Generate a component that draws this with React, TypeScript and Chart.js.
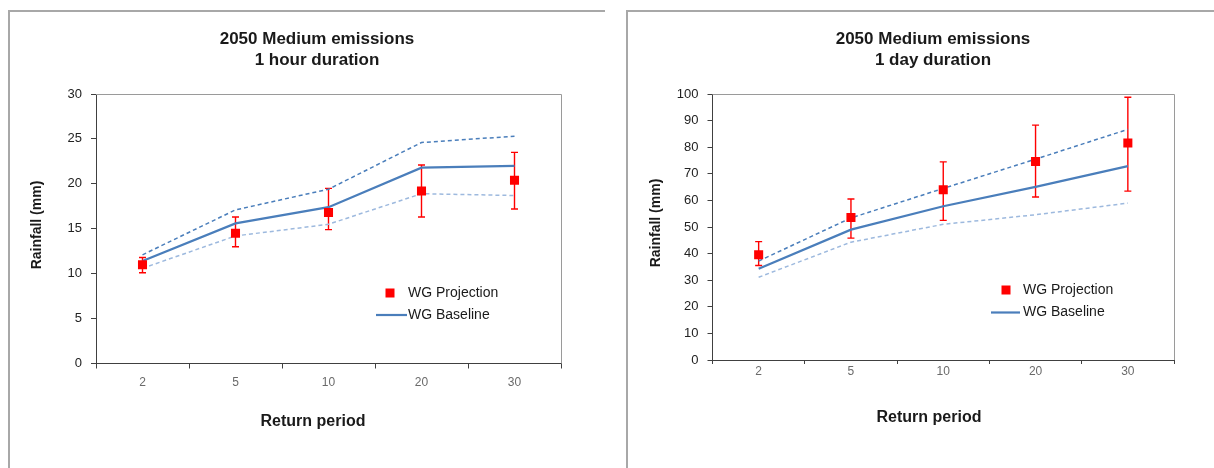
import React, { useEffect, useRef } from "react";
import { Chart, registerables } from "chart.js";

Chart.register(...registerables);

// ---------- data ----------
const returnPeriods = ["2", "5", "10", "20", "30"];

// 1 hour duration
const hourProjection = [11.0, 14.5, 16.8, 19.2, 20.4];
const hourProjectionHigh = [11.8, 16.3, 19.5, 22.1, 23.5];
const hourProjectionLow = [10.1, 13.0, 14.9, 16.3, 17.2];
const hourBaseline = [11.4, 15.6, 17.4, 21.8, 22.0];
const hourBaselineUpper = [12.1, 17.1, 19.4, 24.6, 25.3];
const hourBaselineLower = [10.6, 14.2, 15.5, 18.9, 18.7];

// 1 day duration
const dayProjection = [39.6, 53.6, 64.0, 74.6, 81.6];
const dayProjectionHigh = [44.5, 60.5, 74.5, 88.3, 98.8];
const dayProjectionLow = [35.5, 45.8, 52.5, 61.3, 63.5];
const dayBaseline = [34.3, 49.0, 57.8, 65.1, 72.9];
const dayBaselineUpper = [37.2, 53.4, 64.5, 75.5, 86.7];
const dayBaselineLower = [31.1, 44.3, 51.0, 54.6, 59.0];

const titleLine1 = "2050 Medium emissions";
const hourTitle2 = "1 hour duration";
const dayTitle2 = "1 day duration";
const xTitle = "Return period";
const yTitle = "Rainfall (mm)";
const projLabel = "WG Projection";
const baseLabel = "WG Baseline";

const FONT = "'Liberation Sans', Arial, Helvetica, sans-serif";

type PanelCfg = {
  width: number;
  height: number;
  yMax: number;
  yStep: number;
  proj: number[];
  high: number[];
  low: number[];
  base: number[];
  upper: number[];
  lower: number[];
  title2: string;
  pad: { top: number; right: number };
  yAxisWidth: number;
  xAxisHeight: number;
  xTickPadding: number;
  xTickLen: number;
  titleX: number;
  titleY1: number;
  titleY2: number;
  xTitlePos: [number, number];
  yTitlePos: [number, number];
  legendMarker: [number, number];
  legendLine: [number, number, number];
  legendTextX: number;
};

function makeOverlay(cfg: PanelCfg) {
  return {
    id: "overlay",
    beforeDatasetsDraw(chart: any) {
      const ctx = chart.ctx;
      const xs = chart.scales.x;
      const ys = chart.scales.y;
      ctx.save();
      ctx.strokeStyle = "#FF0000";
      ctx.lineWidth = 1.4;
      cfg.low.forEach((lo, i) => {
        const px = xs.getPixelForValue(i);
        const yl = ys.getPixelForValue(lo);
        const yh = ys.getPixelForValue(cfg.high[i]);
        ctx.beginPath();
        ctx.moveTo(px, yl);
        ctx.lineTo(px, yh);
        ctx.moveTo(px - 3.5, yl);
        ctx.lineTo(px + 3.5, yl);
        ctx.moveTo(px - 3.5, yh);
        ctx.lineTo(px + 3.5, yh);
        ctx.stroke();
      });
      ctx.restore();
    },
    afterDraw(chart: any) {
      const ctx = chart.ctx;
      const { left, right, top, bottom } = chart.chartArea;
      ctx.save();
      // top & right frame of plot area
      ctx.strokeStyle = "#9a9a9a";
      ctx.lineWidth = 1;
      ctx.beginPath();
      ctx.moveTo(left, Math.round(top) + 0.5);
      ctx.lineTo(Math.round(right) + 0.5, Math.round(top) + 0.5);
      ctx.lineTo(Math.round(right) + 0.5, bottom);
      ctx.stroke();

      // chart title
      ctx.fillStyle = "#1a1a1a";
      ctx.textAlign = "center";
      ctx.textBaseline = "alphabetic";
      ctx.font = `bold 17px ${FONT}`;
      ctx.fillText(titleLine1, cfg.titleX, cfg.titleY1);
      ctx.fillText(cfg.title2, cfg.titleX, cfg.titleY2);

      // x axis title
      ctx.textBaseline = "middle";
      ctx.font = `bold 16px ${FONT}`;
      ctx.fillText(xTitle, cfg.xTitlePos[0], cfg.xTitlePos[1]);

      // y axis title
      ctx.save();
      ctx.translate(cfg.yTitlePos[0], cfg.yTitlePos[1]);
      ctx.rotate(-Math.PI / 2);
      ctx.font = `bold 14px ${FONT}`;
      ctx.fillText(yTitle, 0, 0);
      ctx.restore();

      // legend
      const ds0 = chart.data.datasets[0];
      const ds1 = chart.data.datasets[1];
      ctx.fillStyle = ds0.backgroundColor;
      ctx.fillRect(cfg.legendMarker[0] - 4.5, cfg.legendMarker[1] - 4.5, 9, 9);
      ctx.strokeStyle = ds1.borderColor;
      ctx.lineWidth = ds1.borderWidth;
      ctx.beginPath();
      ctx.moveTo(cfg.legendLine[0], cfg.legendLine[2]);
      ctx.lineTo(cfg.legendLine[1], cfg.legendLine[2]);
      ctx.stroke();
      ctx.fillStyle = "#1a1a1a";
      ctx.textAlign = "left";
      ctx.font = `14px ${FONT}`;
      ctx.fillText(ds0.label, cfg.legendTextX, cfg.legendMarker[1]);
      ctx.fillText(ds1.label, cfg.legendTextX, cfg.legendLine[2]);
      ctx.restore();
    },
  };
}

function Panel({ cfg }: { cfg: PanelCfg }) {
  const ref = useRef<HTMLCanvasElement | null>(null);
  useEffect(() => {
    if (!ref.current) return;
    const chart = new Chart(ref.current, {
      type: "line",
      data: {
        labels: returnPeriods,
        datasets: [
          {
            label: projLabel,
            data: cfg.proj,
            showLine: false,
            pointStyle: "rect",
            pointRadius: 6.4,
            pointHoverRadius: 6.4,
            backgroundColor: "#FF0000",
            borderColor: "#FF0000",
            pointBorderWidth: 0,
            borderWidth: 0,
          },
          {
            label: baseLabel,
            data: cfg.base,
            borderColor: "#4A7EBB",
            borderWidth: 2.2,
            pointRadius: 0,
            tension: 0,
          },
          {
            label: "Baseline upper",
            data: cfg.upper,
            borderColor: "#4A7EBB",
            borderWidth: 1.5,
            borderDash: [4, 3],
            pointRadius: 0,
            tension: 0,
          },
          {
            label: "Baseline lower",
            data: cfg.lower,
            borderColor: "#9DB9DE",
            borderWidth: 1.5,
            borderDash: [4, 3],
            pointRadius: 0,
            tension: 0,
          },
        ],
      },
      options: {
        animation: false,
        responsive: false,
        devicePixelRatio: 1,
        layout: { padding: { top: cfg.pad.top, right: cfg.pad.right, left: 0, bottom: 0 } },
        plugins: {
          legend: { display: false },
          tooltip: { enabled: false },
          title: { display: false },
        },
        scales: {
          x: {
            type: "category",
            offset: true,
            grid: {
              display: true,
              drawOnChartArea: false,
              drawTicks: true,
              tickLength: cfg.xTickLen,
              color: "#404040",
              offset: true,
            },
            border: { display: true, color: "#404040", width: 1 },
            ticks: {
              color: "#6a6a6a",
              font: { family: FONT, size: 12 },
              padding: cfg.xTickPadding,
              maxRotation: 0,
            },
            afterFit: (s: any) => {
              s.height = cfg.xAxisHeight;
            },
          },
          y: {
            min: 0,
            max: cfg.yMax,
            grid: {
              display: true,
              drawOnChartArea: false,
              drawTicks: true,
              tickLength: 5,
              color: "#404040",
            },
            border: { display: true, color: "#404040", width: 1 },
            ticks: {
              stepSize: cfg.yStep,
              color: "#222222",
              font: { family: FONT, size: 13 },
              padding: 9,
            },
            afterFit: (s: any) => {
              s.width = cfg.yAxisWidth;
            },
          },
        },
      },
      plugins: [makeOverlay(cfg)],
    } as any);
    return () => chart.destroy();
  }, [cfg]);
  return (
    <canvas
      ref={ref}
      width={cfg.width}
      height={cfg.height}
      style={{ width: cfg.width, height: cfg.height, display: "block" }}
    />
  );
}

const hourCfg: PanelCfg = {
  width: 595,
  height: 448,
  yMax: 30,
  yStep: 5,
  proj: hourProjection,
  high: hourProjectionHigh,
  low: hourProjectionLow,
  base: hourBaseline,
  upper: hourBaselineUpper,
  lower: hourBaselineLower,
  title2: hourTitle2,
  pad: { top: 82, right: 44 },
  yAxisWidth: 86,
  xAxisHeight: 96.5,
  xTickPadding: 7,
  xTickLen: 5,
  titleX: 307,
  titleY1: 31.5,
  titleY2: 52.5,
  xTitlePos: [303, 409.5],
  yTitlePos: [27, 213],
  legendMarker: [380, 281],
  legendLine: [366, 397, 303],
  legendTextX: 398,
};

const dayCfg: PanelCfg = {
  width: 585,
  height: 448,
  yMax: 100,
  yStep: 10,
  proj: dayProjection,
  high: dayProjectionHigh,
  low: dayProjectionLow,
  base: dayBaseline,
  upper: dayBaselineUpper,
  lower: dayBaselineLower,
  title2: dayTitle2,
  pad: { top: 82, right: 40 },
  yAxisWidth: 83.5,
  xAxisHeight: 100,
  xTickPadding: 0,
  xTickLen: 4,
  titleX: 304,
  titleY1: 31.5,
  titleY2: 52.5,
  xTitlePos: [300, 406],
  yTitlePos: [27, 211],
  legendMarker: [377, 278],
  legendLine: [362, 391, 300.5],
  legendTextX: 394,
};

export default function App() {
  return (
    <div
      style={{
        position: "fixed",
        left: 0,
        top: 0,
        width: 1214,
        height: 468,
        background: "#ffffff",
        overflow: "hidden",
      }}
    >
      {/* left frame */}
      <div
        style={{
          position: "absolute",
          left: 8,
          top: 10,
          width: 597,
          height: 470,
          borderTop: "2px solid #a8a8a8",
          borderLeft: "2px solid #a8a8a8",
          boxSizing: "border-box",
        }}
      />
      {/* right frame */}
      <div
        style={{
          position: "absolute",
          left: 626,
          top: 10,
          width: 600,
          height: 470,
          borderTop: "2px solid #a8a8a8",
          borderLeft: "2px solid #a8a8a8",
          boxSizing: "border-box",
        }}
      />
      <div style={{ position: "absolute", left: 10, top: 12 }}>
        <Panel cfg={hourCfg} />
      </div>
      <div style={{ position: "absolute", left: 629, top: 12 }}>
        <Panel cfg={dayCfg} />
      </div>
    </div>
  );
}
